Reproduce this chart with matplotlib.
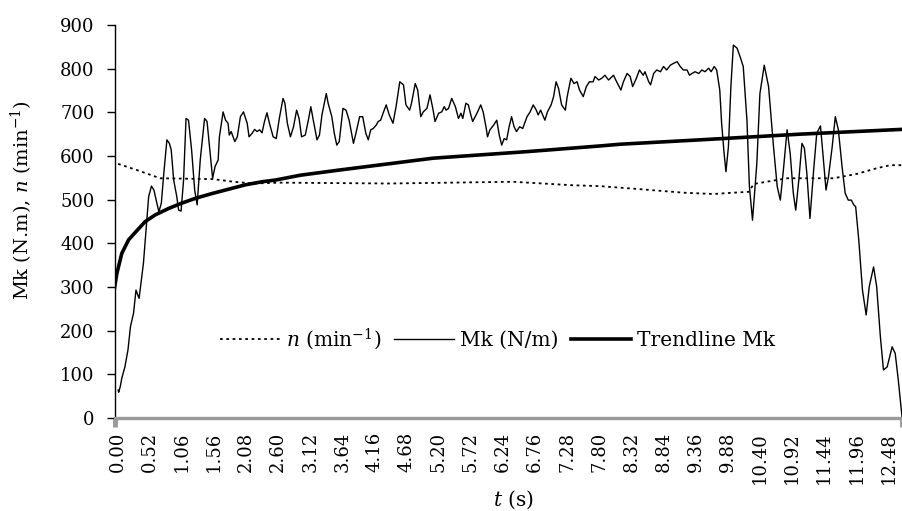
import matplotlib
matplotlib.use('Agg')
import matplotlib.pyplot as plt

# ---------------- data ----------------
mk_t = [0.01, 0.02, 0.045, 0.07, 0.12, 0.17, 0.21, 0.26, 0.30, 0.35, 0.42, 0.45, 0.505, 0.55, 0.59,
        0.67, 0.71, 0.75, 0.80, 0.84, 0.87, 0.91, 0.96, 0.99, 1.03, 1.07, 1.11, 1.15, 1.20, 1.25,
        1.29, 1.34, 1.41, 1.45, 1.50, 1.54, 1.58, 1.63, 1.65, 1.71, 1.75, 1.79, 1.81, 1.84, 1.90,
        1.94, 1.99, 2.04, 2.10, 2.13, 2.18, 2.22, 2.26, 2.30, 2.34, 2.38, 2.42, 2.46, 2.52, 2.57,
        2.62, 2.68, 2.71, 2.75, 2.80, 2.85, 2.90, 2.94, 2.98, 3.04, 3.09, 3.13, 3.17, 3.23, 3.27,
        3.31, 3.38, 3.41, 3.47, 3.51, 3.55, 3.59, 3.65, 3.70, 3.75, 3.82, 3.86, 3.92, 3.97, 4.02,
        4.06, 4.10, 4.14, 4.19, 4.22, 4.26, 4.30, 4.35, 4.40, 4.46, 4.51, 4.57, 4.63, 4.67, 4.73,
        4.76, 4.82, 4.86, 4.91, 4.95, 5.01, 5.06, 5.11, 5.14, 5.20, 5.25, 5.29, 5.32, 5.36, 5.41,
        5.47, 5.52, 5.56, 5.59, 5.64, 5.68, 5.72, 5.75, 5.82, 5.88, 5.92, 5.97, 5.99, 6.03, 6.09,
        6.14, 6.18, 6.22, 6.26, 6.30, 6.34, 6.38, 6.42, 6.46, 6.51, 6.56, 6.63, 6.68, 6.73, 6.78,
        6.81, 6.85, 6.92, 6.96, 7.02, 7.06, 7.10, 7.14, 7.19, 7.25, 7.28, 7.34, 7.39, 7.44, 7.48,
        7.54, 7.59, 7.64, 7.70, 7.73, 7.79, 7.84, 7.89, 7.95, 8.03, 8.08, 8.15, 8.19, 8.25, 8.30,
        8.34, 8.40, 8.45, 8.51, 8.54, 8.60, 8.63, 8.68, 8.73, 8.79, 8.84, 8.89, 8.95, 9.00, 9.06,
        9.11, 9.16, 9.22, 9.26, 9.30, 9.35, 9.41, 9.46, 9.51, 9.57, 9.61, 9.66, 9.70, 9.75, 9.78,
        9.82, 9.85, 9.89, 9.93, 9.97, 10.03, 10.08, 10.13, 10.19, 10.23, 10.28, 10.35, 10.40, 10.47,
        10.54, 10.62, 10.68, 10.73, 10.78, 10.84, 10.89, 10.94, 10.98, 11.03, 11.08, 11.12, 11.16,
        11.21, 11.27, 11.32, 11.38, 11.41, 11.47, 11.51, 11.57, 11.62, 11.67, 11.73, 11.78, 11.83,
        11.88, 11.92, 11.95, 12.00, 12.06, 12.12, 12.17, 12.24, 12.29, 12.35, 12.40, 12.46, 12.54,
        12.59, 12.64, 12.70]
mk_val = [64, 59, 72, 91, 117, 156, 209, 240, 293, 274, 354, 408, 507, 531, 522,
          472, 492, 560, 637, 629, 614, 545, 507, 476, 474, 545, 686, 682, 614, 522,
          488, 591, 686, 679, 606, 549, 576, 591, 644, 701, 682, 675, 648, 656, 633,
          644, 690, 701, 675, 644, 652, 661, 656, 660, 653, 679, 699, 675, 644, 640,
          686, 732, 721, 675, 644, 667, 705, 686, 644, 648, 682, 713, 682, 637, 648,
          694, 743, 721, 690, 652, 625, 633, 709, 705, 682, 629, 652, 690, 690, 652,
          637, 660, 663, 671, 679, 682, 698, 717, 694, 675, 713, 770, 763, 717, 705,
          721, 766, 751, 690, 701, 709, 740, 705, 679, 698, 701, 713, 705, 709, 732,
          713, 686, 698, 686, 721, 717, 694, 679, 698, 717, 701, 663, 644, 660, 671,
          682, 648, 625, 640, 637, 667, 690, 667, 656, 667, 663, 690, 701, 717, 705,
          694, 705, 682, 701, 717, 736, 770, 755, 717, 705, 736, 778, 766, 770, 751,
          736, 759, 770, 770, 782, 774, 778, 785, 774, 785, 770, 751, 770, 789, 782,
          759, 778, 797, 785, 793, 770, 763, 789, 797, 793, 805, 797, 808, 812, 816,
          805, 797, 797, 785, 789, 793, 789, 797, 793, 801, 793, 805, 797, 751, 675,
          606, 564, 621, 759, 854, 847, 827, 805, 682, 530, 453, 583, 743, 808,
          759, 621, 530, 499, 568, 660, 606, 515, 476, 545, 629, 618, 560,
          457, 568, 652, 669, 621, 522, 553, 621, 690, 660, 575, 515, 499,
          499, 488, 484, 408, 293, 236, 301, 346, 301, 186, 110, 117, 163,
          148, 87, 3]

n_t = [0.01, 0.31, 0.69, 1.55, 1.88, 2.20, 2.63, 4.41, 6.40, 7.37, 7.81, 8.46, 9.16, 9.65,
       9.97, 10.22, 10.30, 10.84, 11.59, 11.97, 12.29, 12.51, 12.70]
n_val = [582, 568, 549, 547, 541, 537, 539, 537, 541, 533, 531, 524, 516, 513,
         516, 518, 536, 549, 549, 559, 572, 579, 579]

trend_t = [-0.045, -0.01, 0.07, 0.18, 0.32, 0.45, 0.61, 0.83, 1.04, 1.26, 1.53, 1.80, 2.07,
           2.34, 2.56, 2.96, 3.60, 5.11, 6.63, 7.81, 8.14, 9.43, 11.05, 12.70]
trend_val = [300, 331, 377, 408, 430, 450, 465, 480, 492, 503, 514, 524, 534,
             541, 545, 556, 568, 595, 610, 623, 627, 637, 650, 661]

x_tick_labels = ["0.00", "0.52", "1.06", "1.56", "2.08", "2.60", "3.12", "3.64", "4.16",
                 "4.68", "5.20", "5.72", "6.24", "6.76", "7.28", "7.80", "8.32", "8.84",
                 "9.36", "9.88", "10.40", "10.92", "11.44", "11.96", "12.48"]
y_ticks = [0, 100, 200, 300, 400, 500, 600, 700, 800, 900]

# ---------------- figure ----------------
plt.rcParams['font.family'] = ['DejaVu Serif']
plt.rcParams['mathtext.fontset'] = 'dejavuserif'
FS = 13
FS_BIG = 14.5

fig = plt.figure(figsize=(9.02, 5.11), dpi=100)
ax = fig.add_axes([115 / 902, 93 / 511, 787 / 902, 393 / 511])

ax.plot(n_t, n_val, color='black', lw=1.3, linestyle=(0, (1.5, 2)),
        label=r'$n$ (min$^{-1}$)')
ax.plot(mk_t, mk_val, color='black', lw=1.0, label='Mk (N/m)')
ax.plot(trend_t, trend_val, color='black', lw=2.6, label='Trendline Mk')

ax.set_xlim(-0.04, 12.70)
ax.set_ylim(0, 900)

ax.set_yticks(y_ticks)
ax.set_yticklabels([str(v) for v in y_ticks])
ax.set_xticks([i * 0.52 for i in range(len(x_tick_labels))])
ax.set_xticklabels(x_tick_labels, rotation=90)
ax.set_xticks([-0.04, 12.70], minor=True)

for s in ('top', 'right'):
    ax.spines[s].set_visible(False)
ax.spines['left'].set_color('black')
ax.spines['left'].set_linewidth(1.0)
ax.spines['bottom'].set_color('#9a9a9a')
ax.spines['bottom'].set_linewidth(2.4)
ax.spines['bottom'].set_zorder(5)

ax.tick_params(axis='y', length=5.8, width=1.0, pad=9, labelsize=FS, colors='black')
ax.tick_params(axis='x', which='major', length=0, pad=10, labelsize=FS)
ax.tick_params(axis='x', which='minor', length=6.5, width=3.5, color='#9a9a9a')

ax.legend(loc='center', bbox_to_anchor=(0.486, 0.201), ncol=3, frameon=False,
          handlelength=3.0, handletextpad=0.3, columnspacing=0.6, fontsize=FS_BIG,
          borderpad=0)

fig.text(22 / 902, 1 - 200 / 511, r'Mk (N.m), $n$ (min$^{-1}$)', rotation=90,
         ha='center', va='center', fontsize=14)
fig.text(513 / 902, 1 - 500 / 511, r'$t$ (s)', ha='center', va='center', fontsize=FS_BIG)

fig.savefig('out.png', dpi=100)
